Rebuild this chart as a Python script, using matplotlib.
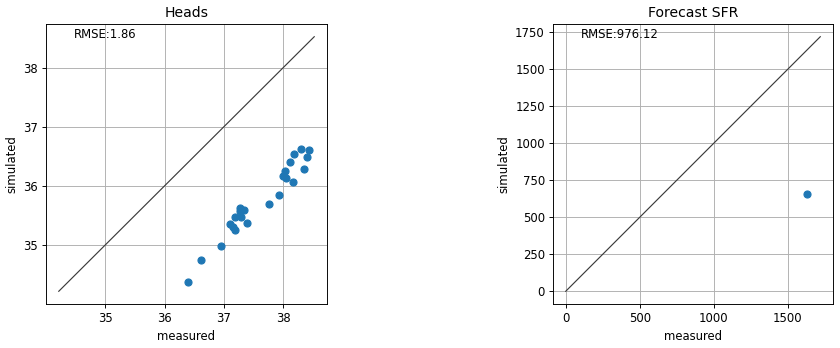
import matplotlib
matplotlib.use("Agg")
import matplotlib.pyplot as plt

# Heads panel data
heads_measured = [36.39, 36.62, 36.95, 37.10, 37.16, 37.19, 37.18, 37.29, 37.38, 37.27, 37.27, 37.33,
                  37.76, 37.93, 37.99, 38.04, 38.03, 38.17, 38.12, 38.18, 38.30, 38.43, 38.40, 38.34]
heads_simulated = [34.37, 34.75, 34.99, 35.35, 35.31, 35.26, 35.47, 35.47, 35.37, 35.63, 35.58, 35.60,
                   35.70, 35.85, 36.16, 36.14, 36.26, 36.06, 36.41, 36.54, 36.63, 36.61, 36.49, 36.29]
heads_line = [34.22, 38.52]
heads_rmse = "RMSE:1.86"

# Forecast SFR panel data
sfr_measured = [1629]
sfr_simulated = [655]
sfr_line = [0, 1720]
sfr_rmse = "RMSE:976.12"

titles = ["Heads", "Forecast SFR"]

W, H = 840, 348
DPI = 84
fig = plt.figure(figsize=(W / DPI, H / DPI), dpi=DPI)
ax1 = fig.add_axes([46 / W, (H - 304) / H, 281 / W, 280 / H])
ax2 = fig.add_axes([553 / W, (H - 304) / H, 280 / W, 280 / H])

panels = [
    (ax1, heads_measured, heads_simulated, heads_line, heads_rmse, titles[0]),
    (ax2, sfr_measured, sfr_simulated, sfr_line, sfr_rmse, titles[1]),
]
for ax, meas, sim, line, rmse, title in panels:
    ax.scatter(meas, sim, color="C0", s=36, zorder=3)
    ax.plot(line, line, color="#3a3a3a", lw=1.0, zorder=2)
    ax.grid(True)
    ax.set_axisbelow(True)
    ax.set_xlabel("measured")
    ax.set_ylabel("simulated")
    ax.set_title(title)
    ax.text(0.1, 0.95, rmse, transform=ax.transAxes)

ax1.set_xticks([35, 36, 37, 38])
ax1.set_yticks([35, 36, 37, 38])
ax2.set_xticks([0, 500, 1000, 1500])
ax2.set_yticks([0, 250, 500, 750, 1000, 1250, 1500, 1750])

fig.savefig("out.png", dpi=DPI)
